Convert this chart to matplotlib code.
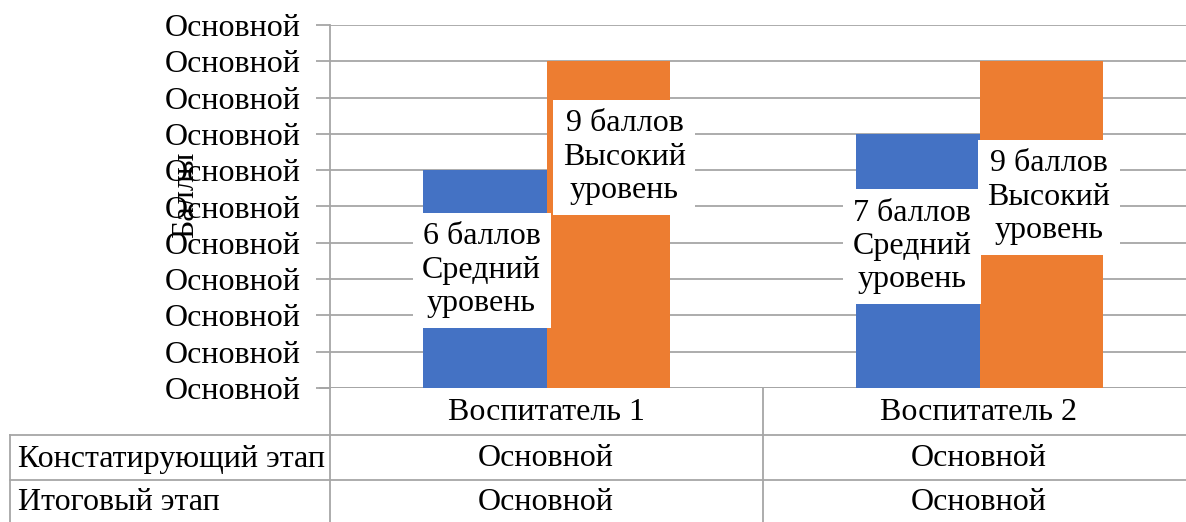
import numpy as np
import matplotlib.pyplot as plt

plt.rcParams['font.family'] = ['Liberation Serif', 'DejaVu Serif']

categories = ["Воспитатель 1", "Воспитатель 2"]
series_names = ["Констатирующий этап", "Итоговый этап"]
stage1 = [6, 7]
stage2 = [9, 9]
labels1 = ["6 баллов\nСредний\nуровень", "7 баллов\nСредний\nуровень"]
labels2 = ["9 баллов\nВысокий\nуровень", "9 баллов\nВысокий\nуровень"]
table_vals = [["Основной", "Основной"], ["Основной", "Основной"]]
ytick_text = "Основной"

# layout of the moved data labels (data coords, offset from category)
lab1_pos = [(-0.15, 3.25), (-0.155, 3.9)]
lab2_pos = [(0.18, 6.36), (0.16, 5.26)]

W, H = 1186, 522
fig = plt.figure(figsize=(W/100, H/100), dpi=100)
ax = fig.add_axes([330/W, (H-388)/H, 866/W, 363/H])

blue = "#4472C4"
orange = "#ED7D31"
grid = "#A6A6A6"
fs = 23

x = np.arange(len(categories))
bw = 0.286
ax.bar(x - bw/2, stage1, bw, color=blue, zorder=2)
ax.bar(x + bw/2, stage2, bw, color=orange, zorder=2)

for i in range(len(categories)):
    ax.text(lab1_pos[i][0] + x[i], lab1_pos[i][1], labels1[i], ha="center", va="center",
            fontsize=fs, linespacing=1.2, zorder=3,
            bbox=dict(facecolor="white", edgecolor="none", pad=7))
    ax.text(lab2_pos[i][0] + x[i], lab2_pos[i][1], labels2[i], ha="center", va="center",
            fontsize=fs, linespacing=1.2, zorder=3,
            bbox=dict(facecolor="white", edgecolor="none", pad=7))

ax.set_xlim(-0.5, 1.5)
ax.set_ylim(0, 10)
ax.set_yticks(range(0, 11))
ax.set_yticklabels([ytick_text]*11, fontsize=fs)
ax.tick_params(axis="y", length=10, color=grid, width=1.3, pad=11)
ax.set_xticks([])
ax.yaxis.grid(True, color=grid, linewidth=1.3, zorder=0)
ax.set_axisbelow(True)
for s in ["top", "right", "bottom"]:
    ax.spines[s].set_visible(False)
ax.spines["left"].set_color(grid)
ax.spines["left"].set_linewidth(1.3)
ax.axhline(0, color=grid, linewidth=1.3, zorder=1)

fig.text(186/W, 1 - 195/H, "Баллы", rotation=90, ha="center", va="center", fontsize=fs)

# data table under the axis
lw = 1.3
def fline(x0, y0, x1, y1):
    fig.add_artist(plt.Line2D([x0/W, x1/W], [1-y0/H, 1-y1/H], color=grid, linewidth=lw))

fline(320, 388, 330, 388)
fline(330, 388, 330, H)
fline(763, 388, 763, H)
fline(10, 435, W, 435)
fline(10, 480, W, 480)
fline(10, 435, 10, H)

col_x = [546, 979]
for i, c in enumerate(categories):
    fig.text(col_x[i]/W, 1-412/H, c, ha="center", va="center", fontsize=fs)
row_y = [459, 503]
for r, name in enumerate(series_names):
    fig.text(18/W, 1-row_y[r]/H, name, ha="left", va="center", fontsize=fs)
    for i in range(len(categories)):
        fig.text(col_x[i]/W, 1-row_y[r]/H, table_vals[r][i], ha="center", va="center", fontsize=fs)

fig.savefig("out.png", dpi=100)
